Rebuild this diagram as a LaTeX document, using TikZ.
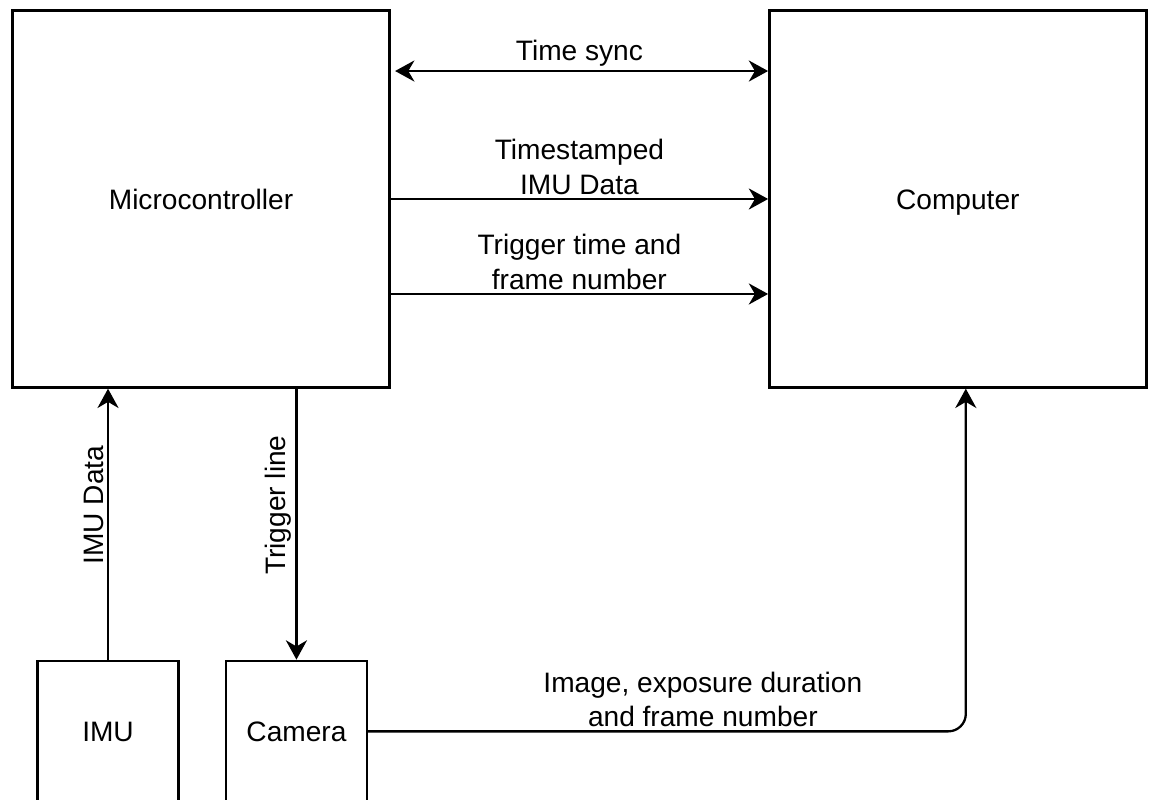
\documentclass[tikz,border=0pt]{standalone}
\usepackage{fontspec}
\setmainfont{Liberation Sans}
\usetikzlibrary{positioning, arrows.meta}

\begin{document}
\begin{tikzpicture}[
    x=0.02cm, y=-0.02cm,
    >={Stealth[length=11pt, width=12pt, inset=3.5pt]},
    block/.style={rectangle, draw=black, line width=1.4pt,
      minimum width=7.54cm, minimum height=7.54cm, align=center,
      text height=11.5pt, text depth=0pt,
      font=\fontsize{16}{19.5}\selectfont},
    sensor/.style={block, minimum width=2.82cm, minimum height=2.82cm},
    arrow/.style={->, line width=1.3pt, black},
    lbl/.style={align=center, font=\fontsize{16}{19.5}\selectfont, inner sep=2pt}
  ]
    \useasboundingbox (0,0) rectangle (1159,800);
    \node[block] (mcu) at (201,199) {Microcontroller};
    \node[block, right=7.55cm of mcu] (pc) {Computer};
    \node[sensor, below right=5.42cm and 0.5cm of mcu.south west] (imu) {IMU};
    \node[sensor, right=0.9cm of imu] (cam) {Camera};
    % links between microcontroller and computer
    \draw[arrow, <->, shorten <=2.5pt] ([yshift=2.56cm]mcu.east) -- ([yshift=2.56cm]pc.west)
      node[lbl, midway, above] {Time sync};
    \draw[arrow] (mcu.east) -- (pc.west)
      node[lbl, midway, above] {Timestamped\\IMU Data};
    \draw[arrow] ([yshift=-1.9cm]mcu.east) -- ([yshift=-1.9cm]pc.west)
      node[lbl, midway, above] {Trigger time and\\frame number};
    % sensors
    \draw[arrow] (imu.north) -- (imu.north |- mcu.south)
      node[lbl, pos=0.57, rotate=90, anchor=south] {IMU Data};
    \draw[arrow] (cam.north |- mcu.south) -- (cam.north)
      node[lbl, pos=0.43, rotate=90, anchor=south] {Trigger line};
    \draw[arrow, rounded corners=0.35cm] (cam.east) -| ([xshift=0.16cm]pc.south)
      node[lbl, pos=0.28, above] {Image, exposure duration\\and frame number};
  \end{tikzpicture}
\end{document}
